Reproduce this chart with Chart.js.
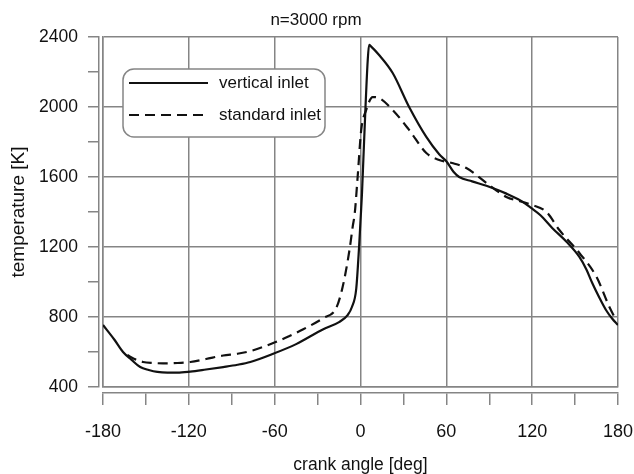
<!DOCTYPE html>
<html>
<head>
<meta charset="utf-8">
<script src="https://cdn.jsdelivr.net/npm/chart.js@4/dist/chart.umd.min.js"></script>
<style>
  html, body { margin: 0; padding: 0; background: #ffffff; }
  #wrap { width: 634px; height: 474px; }
</style>
</head>
<body>
<div id="wrap"><canvas id="chart" width="634" height="474"></canvas></div>
<script>
// In-cylinder gas temperature over the cycle, n = 3000 rpm
const seriesNames = ['vertical inlet', 'standard inlet'];

// crank angle [deg] and temperature [K], vertical inlet
const verticalAngle = [-180, -172, -166, -160, -154, -148, -142, -135, -128, -119, -108, -96, -86, -77, -61, -45, -26, -15, -9, -6, -3, -1, 0, 1, 2, 3.5, 5, 6, 7.5, 13, 22.5, 34, 46, 55, 60, 65, 69, 78, 88, 102, 112, 119, 126, 134, 144, 153, 158, 162, 167, 171.6, 176, 180];
const verticalTemp  = [754, 670, 600, 555, 514, 497, 486, 482, 482, 488, 500, 514, 527, 543, 590, 645, 730, 771, 811, 857, 960, 1200, 1350, 1500, 1700, 2000, 2260, 2355, 2345, 2297, 2194, 2000, 1829, 1730, 1690, 1630, 1600, 1575, 1550, 1505, 1465, 1425, 1380, 1309, 1230, 1143, 1070, 994, 910, 840, 790, 754];

// crank angle [deg] and temperature [K], standard inlet
const standardAngle = [-163, -158, -152, -145, -138, -128, -119, -108, -96, -86, -77, -61, -50, -40, -26, -17, -12.5, -7.7, -5.5, -4, -2, 0.5, 4, 8.5, 13, 22.5, 34, 46, 55, 64, 74, 88, 102, 112, 120, 130, 139, 153, 165, 174, 178.6];
const standardTemp  = [583, 560, 543, 537, 535, 537, 543, 560, 580, 590, 605, 651, 690, 730, 794, 851, 971, 1183, 1314, 1394, 1600, 1869, 1983, 2057, 2051, 1983, 1869, 1737, 1697, 1680, 1651, 1566, 1486, 1460, 1440, 1400, 1297, 1166, 1029, 857, 783];

// axis ranges and tick steps
const angleRange = [-180, 180];
const angleLabelStep = 60;
const angleMinorStep = 30;
const tempRange = [400, 2400];
const tempLabelStep = 400;
const tempMinorStep = 200;

const chartTitle = 'n=3000 rpm';
const xTitle = 'crank angle [deg]';
const yTitle = 'temperature [K]';

const FONT = "'Liberation Sans', Arial, Helvetica, sans-serif";
const GRID = '#858585';
const INK = '#111111';

const toPoints = (xs, ys) => xs.map((x, i) => ({ x: x, y: ys[i] }));

// Legend drawn inside the plot as a rounded, outlined box
const boxedLegend = {
  id: 'boxedLegend',
  afterDatasetsDraw(chart) {
    const { ctx, chartArea } = chart;
    const left = chartArea.left + 20, top = chartArea.top + 32;
    const w = 202, h = 68, r = 11;
    ctx.save();
    ctx.beginPath();
    ctx.roundRect(left, top, w, h, r);
    ctx.fillStyle = '#ffffff';
    ctx.fill();
    ctx.lineWidth = 1.5;
    ctx.strokeStyle = GRID;
    ctx.stroke();
    chart.data.datasets.forEach((ds, i) => {
      const y = top + 14 + i * 32;
      ctx.beginPath();
      ctx.setLineDash(ds.borderDash || []);
      ctx.lineWidth = ds.borderWidth;
      ctx.strokeStyle = ds.borderColor;
      ctx.moveTo(left + 6, y);
      ctx.lineTo(left + 85, y);
      ctx.stroke();
      ctx.setLineDash([]);
      ctx.fillStyle = INK;
      ctx.font = '17px ' + FONT;
      ctx.textBaseline = 'middle';
      ctx.textAlign = 'left';
      ctx.fillText(ds.label, left + 96, y);
    });
    ctx.restore();
  }
};

// keep the plot edges fixed regardless of label overhang
const noOverhang = s => { s.paddingLeft = 0; s.paddingRight = 0; s.paddingTop = 0; s.paddingBottom = 0; };

new Chart(document.getElementById('chart'), {
  type: 'line',
  data: {
    datasets: [
      {
        label: seriesNames[0],
        data: toPoints(verticalAngle, verticalTemp),
        borderColor: INK,
        borderWidth: 2.2,
        pointRadius: 0,
        cubicInterpolationMode: 'monotone',
        xAxisID: 'x', yAxisID: 'y'
      },
      {
        label: seriesNames[1],
        data: toPoints(standardAngle, standardTemp),
        borderColor: INK,
        borderWidth: 2.2,
        borderDash: [10, 6],
        pointRadius: 0,
        cubicInterpolationMode: 'monotone',
        xAxisID: 'x', yAxisID: 'y'
      }
    ]
  },
  options: {
    responsive: false,
    animation: false,
    layout: { padding: { left: 14, right: 16, top: 0, bottom: 0 } },
    plugins: {
      legend: { display: false },
      tooltip: { enabled: false },
      title: {
        display: true,
        text: chartTitle,
        color: INK,
        font: { family: FONT, size: 17, weight: 'normal', lineHeight: 1.2 },
        padding: { top: 10, bottom: 6.6 }
      }
    },
    scales: {
      // plot frame and grid (bottom)
      x: {
        type: 'linear', position: 'bottom', weight: 0,
        min: angleRange[0], max: angleRange[1],
        ticks: { display: false, stepSize: angleLabelStep },
        grid: { color: GRID, lineWidth: 1.5, drawTicks: false },
        border: { display: true, color: GRID, width: 1.5 },
        afterFit: s => { s.height = 6; noOverhang(s); }
      },
      // detached angle axis with ticks and labels
      x2: {
        type: 'linear', position: 'bottom', weight: 1,
        min: angleRange[0], max: angleRange[1],
        ticks: {
          stepSize: angleMinorStep, autoSkip: false, maxRotation: 0,
          color: INK, padding: 16,
          font: { family: FONT, size: 18 },
          callback: v => (v % angleLabelStep === 0 ? String(v) : '')
        },
        grid: { drawOnChartArea: false, drawTicks: true, tickLength: 12, color: GRID, lineWidth: 1.5 },
        border: { display: true, color: GRID, width: 1.5 },
        title: {
          display: true, text: xTitle, color: INK,
          font: { family: FONT, size: 17.5, lineHeight: 1.0 },
          padding: { top: 0, bottom: 0 }
        },
        afterFit: s => { s.height = 81; noOverhang(s); }
      },
      // plot frame and grid (left)
      y: {
        type: 'linear', position: 'left', weight: 0,
        min: tempRange[0], max: tempRange[1],
        ticks: { display: false, stepSize: tempLabelStep },
        grid: { color: GRID, lineWidth: 1.5, drawTicks: false },
        border: { display: true, color: GRID, width: 1.5 },
        afterFit: s => { s.width = 4; noOverhang(s); }
      },
      // detached temperature axis with ticks and labels
      y2: {
        type: 'linear', position: 'left', weight: 1,
        min: tempRange[0], max: tempRange[1],
        ticks: {
          stepSize: tempMinorStep, autoSkip: false,
          color: INK, padding: 10,
          font: { family: FONT, size: 17.5 },
          callback: v => (v % tempLabelStep === 0 ? String(v) : '')
        },
        grid: { drawOnChartArea: false, drawTicks: true, tickLength: 11, color: GRID, lineWidth: 1.5 },
        border: { display: true, color: GRID, width: 1.5 },
        title: {
          display: true, text: yTitle, color: INK,
          font: { family: FONT, size: 19, lineHeight: 1.0 },
          padding: { top: -5, bottom: 0 }
        },
        afterFit: s => { s.width = 85; noOverhang(s); }
      }
    }
  },
  plugins: [boxedLegend]
});
</script>
</body>
</html>
